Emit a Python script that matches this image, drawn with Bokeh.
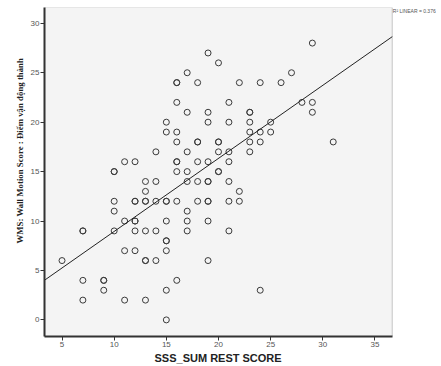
import numpy as np
from bokeh.plotting import figure
from bokeh.models import Label, Range1d, FixedTicker, BoxAnnotation, Title
from bokeh.embed import file_html
from bokeh.resources import INLINE

# data (duplicates listed twice)
sss_rest = [29, 19, 20, 17, 27,
            16, 16, 18, 22, 24, 26,
            16, 21, 28, 29,
            17, 19, 23, 23, 29,
            15, 19, 21, 23, 25,
            15, 16, 23, 24, 25,
            16, 18, 18, 20, 20, 23, 24, 31,
            14, 17, 20, 21, 23,
            11, 12, 16, 16, 18, 19, 21,
            10, 10, 16, 17, 20, 20,
            13, 14, 17, 18, 19, 19, 21,
            13, 22,
            10, 12, 12, 13, 13, 14, 15, 15, 16, 18, 19, 19, 21, 22,
            10, 17,
            11, 12, 12, 15, 17, 19,
            7, 7, 10, 12, 13, 14, 17, 21,
            15, 15,
            11, 12, 15,
            5, 13, 13, 14, 19,
            7, 9, 9, 16,
            9, 15, 24,
            7, 11, 13,
            15]
wms = [28, 27, 26, 25, 25,
       24, 24, 24, 24, 24, 24,
       22, 22, 22, 22,
       21, 21, 21, 21, 21,
       20, 20, 20, 20, 20,
       19, 19, 19, 19, 19,
       18, 18, 18, 18, 18, 18, 18, 18,
       17, 17, 17, 17, 17,
       16, 16, 16, 16, 16, 16, 16,
       15, 15, 15, 15, 15, 15,
       14, 14, 14, 14, 14, 14, 14,
       13, 13,
       12, 12, 12, 12, 12, 12, 12, 12, 12, 12, 12, 12, 12, 12,
       11, 11,
       10, 10, 10, 10, 10, 10,
       9, 9, 9, 9, 9, 9, 9, 9,
       8, 8,
       7, 7, 7,
       6, 6, 6, 6, 6,
       4, 4, 4, 4,
       3, 3, 3,
       2, 2, 2,
       0]
x_ticks = [5, 10, 15, 20, 25, 30, 35]
y_ticks = [0, 5, 10, 15, 20, 25, 30]
r2_text = "R\u00b2 LINEAR = 0.376"
x_title = "SSS_SUM REST SCORE"
y_title = "WMS: Wall Motion Score : \u0110i\u1ec3m v\u1eadn \u0111\u1ed9ng th\u00e0nh"

slope_v, intercept_v = np.polyfit(np.array(sss_rest, float), np.array(wms, float), 1)

# plot area (grey box) and an extra white strip on the right for the R² note
x0, x1 = 3.32, 36.66
y0, y1 = -1.68, 31.6
x_ext = 40.9

p = figure(output_backend="svg", toolbar_location=None,
           frame_width=392, frame_height=329,
           min_border_left=44, min_border_right=0, min_border_top=7, min_border_bottom=30,
           x_range=Range1d(x0, x_ext), y_range=Range1d(y0, y1),
           background_fill_color="white", border_fill_color="white")

p.grid.visible = False
p.outline_line_color = None

p.add_layout(BoxAnnotation(left=x0, right=x1, bottom=y0, top=y1,
                           fill_color="#F4F4F4", fill_alpha=1,
                           line_color="#6a6a6a", line_width=1.2, level="underlay"))

for ax in (p.xaxis[0], p.yaxis[0]):
    ax.axis_line_color = "#333333"
    ax.axis_line_width = 2
    ax.major_tick_line_color = "#333333"
    ax.major_tick_out = 4
    ax.major_tick_in = 0
    ax.minor_tick_line_color = None
    ax.major_label_text_font = "Liberation Sans"
    ax.major_label_text_font_size = "8px"
    ax.major_label_text_color = "#555555"
    ax.major_label_standoff = 1

p.xaxis.bounds = (x0, x1)
p.xaxis.ticker = FixedTicker(ticks=x_ticks)
p.yaxis.ticker = FixedTicker(ticks=y_ticks)

p.scatter(sss_rest, wms, size=6, marker="circle", fill_color=None,
          line_color="#3a3a3a", line_width=1)

p.line([x0, x1], [intercept_v + slope_v * x0, intercept_v + slope_v * x1],
       line_color="#222222", line_width=1)

p.add_layout(Label(x=x1, y=y1, x_offset=0.5, y_offset=-3,
                   text=r2_text, text_align="left", text_baseline="middle",
                   text_font="Liberation Sans", text_font_size="5px",
                   text_color="#555555"))

p.add_layout(Title(text=x_title, align="left", offset=110, standoff=0,
                   text_font="Liberation Sans", text_font_style="bold",
                   text_font_size="11px", text_color="#222222"), "below")

p.add_layout(Title(text=y_title, align="left", offset=93, standoff=6,
                   text_font="Liberation Serif", text_font_style="bold",
                   text_font_size="8.8px", text_color="#222222"), "left")

open("out.html", "w").write(file_html(p, INLINE))
print(slope_v, intercept_v)
